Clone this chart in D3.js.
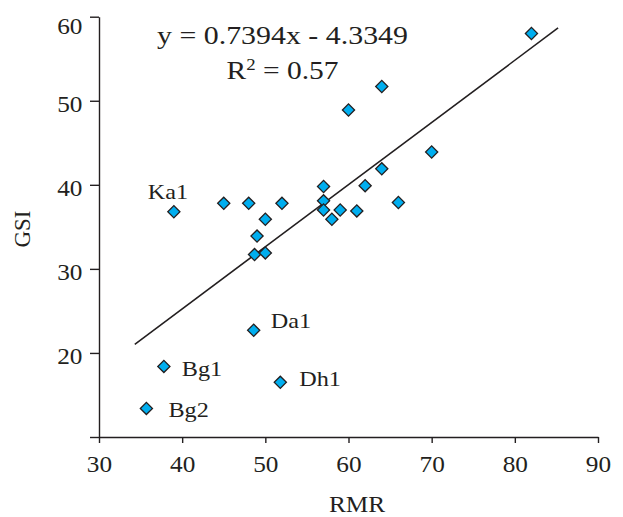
<!DOCTYPE html>
<html>
<head>
<meta charset="utf-8">
<script src="https://cdn.jsdelivr.net/npm/d3@7"></script>
<style>
  body { margin: 0; background: #fff; }
  svg text { font-family: "Times New Roman", "Liberation Serif", Tinos, serif; fill: #231f20; }
</style>
</head>
<body>
<div id="chart"></div>
<script>
// data
var rmr = [82, 64, 60, 70, 64, 62, 57, 66, 57, 57, 59, 61, 58, 52, 39, 45, 48, 50, 49, 48.7, 50, 48.6, 37.8, 51.8, 35.7];
var gsi = [58, 51.7, 48.9, 43.9, 41.9, 39.9, 39.8, 37.9, 38.1, 37, 37, 36.9, 35.9, 37.8, 36.8, 37.8, 37.8, 35.9, 33.9, 31.7, 31.9, 22.7, 18.4, 16.5, 13.4];
var ptLabels = ["", "", "", "", "", "", "", "", "", "", "", "", "", "", "Ka1", "", "", "", "", "", "", "Da1", "Bg1", "Dh1", "Bg2"];

// linear trendline
var slope = 0.7394, intercept = -4.3349, r2 = 0.57;
var trendRange = [34.3, 85.2];

var xTicks = [30, 40, 50, 60, 70, 80, 90];
var yTicks = [10, 20, 30, 40, 50, 60];

// label placement (offset from the marker, px)
var labelPos = {
  Ka1: {dx: -6, dy: -13, anchor: "middle"},
  Da1: {dx: 17, dy: -2, anchor: "start"},
  Bg1: {dx: 18, dy: 10, anchor: "start"},
  Dh1: {dx: 19, dy: 4, anchor: "start"},
  Bg2: {dx: 22, dy: 9, anchor: "start"}
};

var svgWidth = 623, svgHeight = 517;

var svg = d3.select("#chart").append("svg")
  .attr("width", svgWidth)
  .attr("height", svgHeight);

var x = d3.scaleLinear().domain([30, 90]).range([99, 598]);
var y = d3.scaleLinear().domain([10, 60]).range([437, 16.7]);

var stretch = "scale(1.1,1)";

// x axis
var xAxisG = svg.append("g")
  .attr("transform", "translate(0," + y(10) + ")")
  .call(d3.axisBottom(x).tickValues(xTicks).tickSize(6).tickSizeOuter(0).tickPadding(13));

// y axis
var yAxisG = svg.append("g")
  .attr("transform", "translate(" + x(30) + ",0)")
  .call(d3.axisLeft(y).tickValues(yTicks).tickSize(9).tickSizeOuter(0).tickPadding(6)
    .tickFormat(function (d) { return d === 10 ? "" : d; }));

[xAxisG, yAxisG].forEach(function (g) {
  g.attr("font-family", null);
  g.selectAll("path, line").attr("stroke", "#231f20").attr("stroke-width", 1.4);
  g.selectAll("text")
    .attr("font-size", 23)
    .attr("fill", "#231f20")
    .attr("transform", stretch);
});
yAxisG.selectAll(".tick text").attr("dy", "0.45em");
// top label sits lower so it stays inside the frame
yAxisG.selectAll(".tick text").filter(function (d) { return d === 60; }).attr("dy", "0.74em");

// trendline
svg.append("line")
  .attr("x1", x(trendRange[0]))
  .attr("y1", y(slope * trendRange[0] + intercept))
  .attr("x2", x(trendRange[1]))
  .attr("y2", y(slope * trendRange[1] + intercept))
  .attr("stroke", "#231f20")
  .attr("stroke-width", 1.6);

// points
var pts = rmr.map(function (v, i) { return {x: v, y: gsi[i], label: ptLabels[i]}; });

svg.selectAll(".pt")
  .data(pts)
  .enter()
  .append("path")
  .attr("class", "pt")
  .attr("d", d3.symbol(d3.symbolSquare, 74))
  .attr("transform", function (d) { return "translate(" + x(d.x) + "," + y(d.y) + ") rotate(45)"; })
  .attr("fill", "#00aeef")
  .attr("stroke", "#231f20")
  .attr("stroke-width", 1.3);

// point labels
svg.selectAll(".ptlabel")
  .data(pts.filter(function (d) { return d.label; }))
  .enter()
  .append("text")
  .attr("class", "ptlabel")
  .attr("transform", function (d) {
    var p = labelPos[d.label];
    return "translate(" + (x(d.x) + p.dx) + "," + (y(d.y) + p.dy) + ") " + stretch;
  })
  .attr("text-anchor", function (d) { return labelPos[d.label].anchor; })
  .attr("font-size", 22)
  .text(function (d) { return d.label; });

// equation
var sign = intercept < 0 ? " - " : " + ";
svg.append("text")
  .attr("x", 282.5)
  .attr("y", 43.5)
  .attr("text-anchor", "middle")
  .attr("font-size", 25)
  .attr("textLength", 251)
  .attr("lengthAdjust", "spacingAndGlyphs")
  .text("y = " + slope + "x" + sign + Math.abs(intercept));

var r2Text = svg.append("text")
  .attr("x", 282.5)
  .attr("y", 78.5)
  .attr("text-anchor", "middle")
  .attr("font-size", 25)
  .attr("textLength", 112)
  .attr("lengthAdjust", "spacingAndGlyphs");
r2Text.append("tspan").text("R");
r2Text.append("tspan").attr("font-size", 16).attr("dy", -9).text("2");
r2Text.append("tspan").attr("dy", 9).text(" = " + r2);

// axis titles
svg.append("text")
  .attr("transform", "translate(357,512) " + stretch)
  .attr("text-anchor", "middle")
  .attr("font-size", 23)
  .text("RMR");

svg.append("text")
  .attr("transform", "translate(30,229) rotate(-90)")
  .attr("text-anchor", "middle")
  .attr("font-size", 23)
  .text("GSI");
</script>
</body>
</html>
